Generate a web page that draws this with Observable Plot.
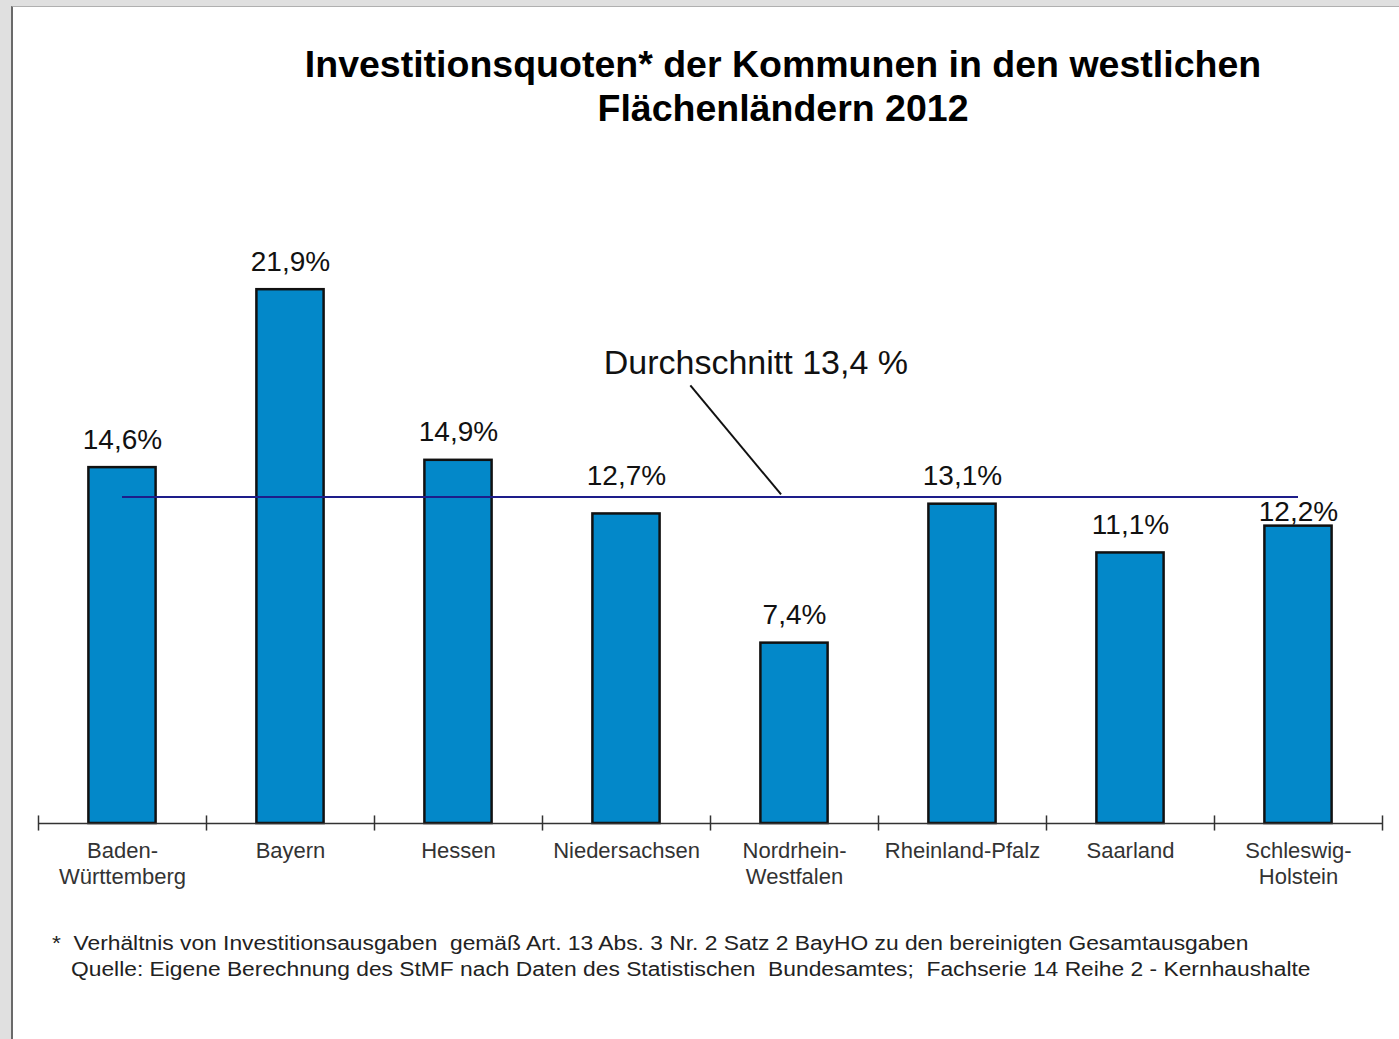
<!DOCTYPE html>
<html>
<head>
<meta charset="utf-8">
<script src="https://cdn.jsdelivr.net/npm/d3@7"></script>
<script src="https://cdn.jsdelivr.net/npm/@observablehq/plot@0.6"></script>
<style>
  html, body { margin: 0; padding: 0; }
  body { width: 1399px; height: 1039px; background: #e0e0e0; position: relative; overflow: hidden;
         font-family: "Liberation Sans", Arial, sans-serif; }
  #panel { position: absolute; left: 11px; top: 6px; right: 0; bottom: 0; background: #fff;
           border-left: 2px solid #6a6a6a; border-top: 1px solid #b0b0b0; }
  #title { position: absolute; left: 183px; top: 42px; width: 1200px; text-align: center;
           font-weight: bold; font-size: 37.5px; line-height: 44px; color: #000; }
  #chart { position: absolute; left: 0; top: 130px; }
  .foot { position: absolute; font-size: 20px; color: #222; white-space: pre; line-height: 24px;
          transform: scaleX(1.14); transform-origin: 0 0; }
</style>
</head>
<body>
<div id="panel"></div>
<div id="title">Investitionsquoten* der Kommunen in den westlichen<br>Flächenländern 2012</div>
<div id="chart"></div>
<div class="foot" style="left:52px; top:931px;">*  Verhältnis von Investitionsausgaben  gemäß Art. 13 Abs. 3 Nr. 2 Satz 2 BayHO zu den bereinigten Gesamtausgaben</div>
<div class="foot" style="left:71px; top:957px;">Quelle: Eigene Berechnung des StMF nach Daten des Statistischen  Bundesamtes;  Fachserie 14 Reihe 2 - Kernhaushalte</div>
<script>
const categories = ["Baden-Württemberg", "Bayern", "Hessen", "Niedersachsen", "Nordrhein-Westfalen", "Rheinland-Pfalz", "Saarland", "Schleswig-Holstein"];
const tickLabels = ["Baden-\nWürttemberg", "Bayern", "Hessen", "Niedersachsen", "Nordrhein-\nWestfalen", "Rheinland-Pfalz", "Saarland", "Schleswig-\nHolstein"];
const values = [14.6, 21.9, 14.9, 12.7, 7.4, 13.1, 11.1, 12.2];
const valueLabels = ["14,6%", "21,9%", "14,9%", "12,7%", "7,4%", "13,1%", "11,1%", "12,2%"];
const average = 13.4;
const averageLabel = "Durchschnitt 13,4 %";
// annotation anchor points (x in category index units, y in percent)
const annotationText = [{x: 3.77, y: 18.9}];
const annotationLine = [{x1: 3.38, y1: 17.97, x2: 3.92, y2: 13.5}];

const data = categories.map((c, i) => ({i, category: c, value: values[i], label: valueLabels[i]}));
const boundaries = d3.range(categories.length + 1).map(i => i - 0.5);

const labelFont = {lineAnchor: "middle", fontSize: 28, fill: "#111", x: "i", y: "value", text: "label"};

const chart = Plot.plot({
  width: 1399,
  height: 800,
  marginLeft: 38,
  marginRight: 17,
  marginTop: 108,
  marginBottom: 107,
  style: {fontFamily: '"Liberation Sans", Arial, sans-serif', background: "transparent"},
  x: {type: "linear", domain: [-0.5, categories.length - 0.5]},
  y: {domain: [0, 24], axis: null},
  marks: [
    Plot.rectY(data, {x1: d => d.i - 0.2, x2: d => d.i + 0.2, y1: 0, y2: "value",
      fill: "#0388c9", stroke: "#111", strokeWidth: 2.5}),
    Plot.ruleY([0], {stroke: "#333", strokeWidth: 1.5}),
    Plot.ruleX(boundaries, {x: d => d, y1: -0.31, y2: 0.31, stroke: "#333", strokeWidth: 1.5}),
    Plot.axisX({ticks: d3.range(categories.length), tickFormat: i => tickLabels[i],
      tickSize: 0, tickPadding: 15, fontSize: 22, lineHeight: 1.22, fill: "#333", label: null}),
    Plot.ruleY([average], {x1: 0, x2: categories.length - 1, stroke: "#1d1d8a", strokeWidth: 2}),
    Plot.text(data, {...labelFont, filter: d => d.category !== "Niedersachsen" && d.category !== "Schleswig-Holstein", dy: -28}),
    Plot.text(data, {...labelFont, filter: d => d.category === "Niedersachsen", dy: -38}),
    Plot.text(data, {...labelFont, filter: d => d.category === "Schleswig-Holstein", dy: -14}),
    Plot.link(annotationLine, {x1: "x1", y1: "y1", x2: "x2", y2: "y2", stroke: "#111", strokeWidth: 2}),
    Plot.text(annotationText, {x: "x", y: "y", text: () => averageLabel, lineAnchor: "middle",
      fontSize: 34, fill: "#111"})
  ]
});
document.getElementById("chart").appendChild(chart);
</script>
</body>
</html>
